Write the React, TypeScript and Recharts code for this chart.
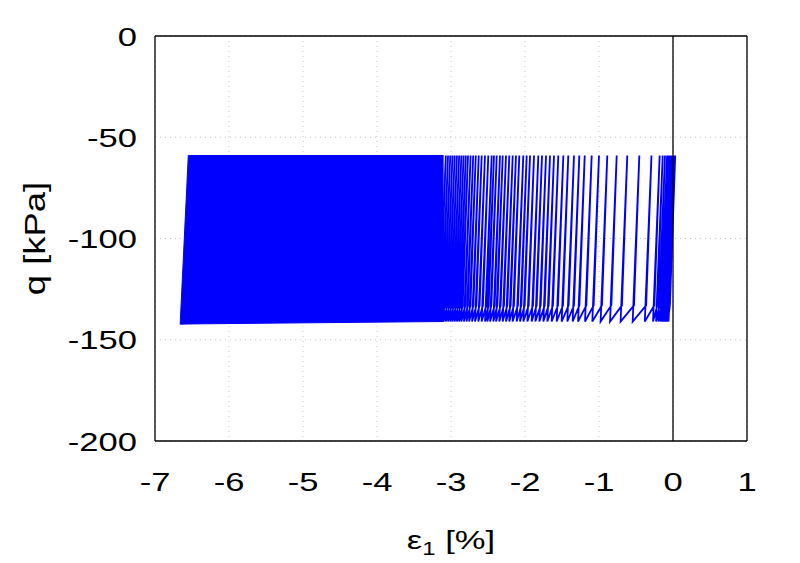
import React from 'react';
import {
	ComposedChart,
	Line,
	Area,
	XAxis,
	YAxis,
	CartesianGrid,
	ReferenceLine,
	Label,
} from 'recharts';

// strain at the top of each unloading branch, first cycle on the right [%]
const cycleTops = [
	0.03, 0.02, 0.01, 0.0, -0.01, -0.02, -0.03, -0.045, -0.06, -0.08,
	-0.108, -0.139, -0.18, -0.291, -0.455, -0.618, -0.761, -0.888, -1.0, -1.099,
	-1.193, -1.266, -1.338, -1.415, -1.482, -1.55, -1.608, -1.662, -1.716, -1.77,
	-1.82, -1.878, -1.932, -1.977, -2.023, -2.077, -2.122, -2.166, -2.212, -2.257,
	-2.301, -2.338, -2.382, -2.419, -2.45, -2.496, -2.541, -2.585, -2.625, -2.665,
	-2.7, -2.735, -2.77, -2.8, -2.83, -2.86, -2.89, -2.92, -2.95, -2.98,
	-3.01, -3.04, -3.07,
];

const qPeak = -59; // top of the loops [kPa]
const qTrough = -141; // bottom of the loops [kPa]
const qTurn = -133; // where the loading branch bends over
const branchLean = 0.09; // strain between bottom and top of one branch

// later cycles lie so close together that they merge into a solid band
const bandStrain = [-6.66, -6.55, -3.1];
const bandLow = [-142.3, -142.2, -141];
const bandHigh = [-142.3, -59, -59];

const xTicks = [-7, -6, -5, -4, -3, -2, -1, 0, 1];
const yTicks = [-200, -150, -100, -50, 0];

const loopData: { x: number; q: number }[] = [];
cycleTops.forEach((t) => {
	loopData.push({ x: t - branchLean, q: qTrough });
	loopData.push({ x: t, q: qPeak });
	loopData.push({ x: t - branchLean * 0.8, q: qTurn });
});

const bandData = bandStrain.map((x, i) => ({ x, band: [bandLow[i], bandHigh[i]] }));

const FONT = '"Liberation Sans", Arial, Helvetica, sans-serif';
const STRETCH = 'scale(1.33,1)'; // the original figure is stretched sideways

const XTick = (props: any) => {
	const { x, y, payload } = props;
	return (
		<g transform={`translate(${x},${y + 49.5})`}>
			<text transform={STRETCH} textAnchor="middle" fontSize={26} fontFamily={FONT} fill="#000">
				{payload.value}
			</text>
		</g>
	);
};

const YTick = (props: any) => {
	const { x, y, payload } = props;
	return (
		<g transform={`translate(${x - 18},${y + 9.5})`}>
			<text transform={STRETCH} textAnchor="end" fontSize={26} fontFamily={FONT} fill="#000">
				{payload.value}
			</text>
		</g>
	);
};

const XTitle = (props: any) => {
	const { viewBox } = props;
	const cx = viewBox.x + viewBox.width / 2;
	return (
		<g transform={`translate(${cx},549) ${STRETCH}`}>
			<text textAnchor="middle" fontSize={26} fontFamily={FONT} fill="#000">
				ε<tspan fontSize={18} dy={6}>1</tspan>
				<tspan dy={-6}> [%]</tspan>
			</text>
		</g>
	);
};

const YTitle = (props: any) => {
	const { viewBox } = props;
	const cy = viewBox.y + viewBox.height / 2;
	return (
		<g transform={`translate(37,${cy}) scale(1.15,1.4) rotate(-90)`}>
			<text textAnchor="middle" y={7} fontSize={26} fontFamily={FONT} fill="#000">
				q [kPa]
			</text>
		</g>
	);
};

export default function App() {
	return (
		<div style={{ position: 'absolute', left: 0, top: 0, background: '#fff' }}>
			<ComposedChart width={800} height={563} margin={{ top: 36, right: 53, bottom: 42, left: 0 }}>
				<CartesianGrid stroke="#c8c8c8" strokeDasharray="1 4" />
				<XAxis
					dataKey="x"
					type="number"
					domain={[-7, 1]}
					ticks={xTicks}
					height={80}
					tickLine={false}
					tickSize={0}
					tickMargin={0}
					tick={<XTick />}
					axisLine={{ stroke: '#000', strokeWidth: 1.3 }}
				>
					<Label content={<XTitle />} />
				</XAxis>
				<XAxis
					xAxisId="bottomTicks"
					type="number"
					domain={[-7, 1]}
					ticks={xTicks}
					orientation="bottom"
					mirror
					height={20}
					tick={false}
					tickSize={14}
					axisLine={false}
					tickLine={{ stroke: '#000', strokeWidth: 1.3 }}
				/>
				<XAxis
					xAxisId="top"
					type="number"
					domain={[-7, 1]}
					ticks={xTicks}
					orientation="top"
					mirror
					height={20}
					tick={false}
					tickSize={14}
					axisLine={{ stroke: '#000', strokeWidth: 1.3 }}
					tickLine={{ stroke: '#000', strokeWidth: 1.3 }}
				/>
				<YAxis
					type="number"
					domain={[-200, 0]}
					ticks={yTicks}
					width={155}
					tickLine={false}
					tickSize={0}
					tickMargin={0}
					tick={<YTick />}
					axisLine={{ stroke: '#000', strokeWidth: 1.3 }}
				>
					<Label content={<YTitle />} />
				</YAxis>
				<YAxis
					yAxisId="leftTicks"
					type="number"
					domain={[-200, 0]}
					ticks={yTicks}
					orientation="left"
					mirror
					width={20}
					tick={false}
					tickSize={14}
					axisLine={false}
					tickLine={{ stroke: '#000', strokeWidth: 1.3 }}
				/>
				<YAxis
					yAxisId="right"
					type="number"
					domain={[-200, 0]}
					ticks={yTicks}
					orientation="right"
					mirror
					width={20}
					tick={false}
					tickSize={14}
					axisLine={{ stroke: '#000', strokeWidth: 1.3 }}
					tickLine={{ stroke: '#000', strokeWidth: 1.3 }}
				/>
				<Area
					data={bandData}
					dataKey="band"
					type="linear"
					fill="#0000ff"
					fillOpacity={1}
					stroke="#0000ff"
					strokeWidth={1}
					isAnimationActive={false}
				/>
				<Line
					data={loopData}
					dataKey="q"
					type="linear"
					stroke="#0000ff"
					strokeWidth={1.8}
					dot={false}
					isAnimationActive={false}
				/>
				<ReferenceLine x={0} stroke="#000" strokeWidth={1.3} />
			</ComposedChart>
		</div>
	);
}
